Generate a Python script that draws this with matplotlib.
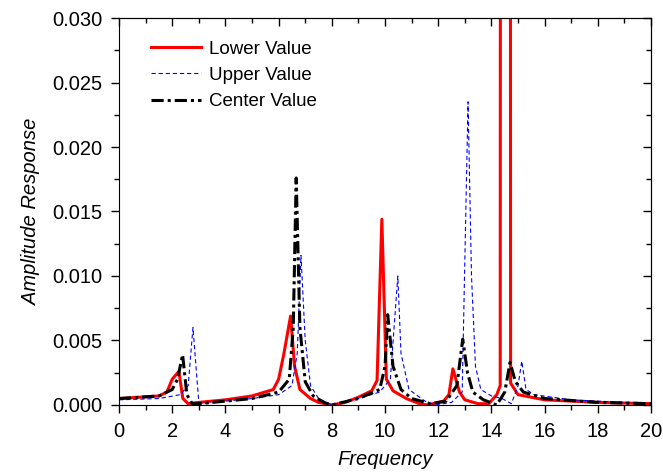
import matplotlib.pyplot as plt
from matplotlib.ticker import MultipleLocator, FormatStrFormatter, NullFormatter

plt.rcParams["font.family"] = ["Liberation Sans", "DejaVu Sans"]

# Lower Value (solid red)
lower_x = [0.0, 1.5, 1.8, 2.0, 2.25, 2.4, 2.6, 3.0, 4.0, 5.0, 5.8, 6.0, 6.2,
           6.45, 6.6, 6.8, 7.2, 7.5, 8.0, 8.5, 9.0, 9.5, 9.7, 9.88, 10.05,
           10.3, 10.8, 11.3, 11.6, 12.2, 12.4, 12.55, 12.8, 13.0, 13.5, 13.9,
           14.2, 14.33, 14.36, 14.68, 14.72, 15.0, 16.0, 18.0, 20.0]
lower_y = [0.0005, 0.0007, 0.0010, 0.0020, 0.0026, 0.0005, 0.0001, 0.0002,
           0.0004, 0.0007, 0.0012, 0.0020, 0.0040, 0.0069, 0.0030, 0.0012,
           0.0005, 0.0002, 0.0000, 0.0002, 0.0006, 0.0011, 0.0019, 0.0144,
           0.0020, 0.0011, 0.0005, 0.0001, 0.0000, 0.0003, 0.0008, 0.0028,
           0.0010, 0.0004, 0.0001, 0.0001, 0.0008, 0.0015, 0.2000, 0.2000,
           0.0017, 0.0008, 0.0004, 0.0002, 0.0001]

# Upper Value (dashed blue)
upper_x = [0.0, 1.5, 2.3, 2.6, 2.78, 2.95, 3.0, 3.2, 4.0, 5.0, 6.0, 6.5, 6.7,
           6.84, 7.0, 7.2, 7.5, 8.0, 9.0, 9.8, 10.2, 10.48, 10.6, 10.9, 11.5,
           11.9, 12.5, 12.9, 13.12, 13.25, 13.4, 13.6, 14.0, 14.4, 14.75,
           15.0, 15.14, 15.3, 15.6, 17.0, 20.0]
upper_y = [0.0004, 0.0005, 0.0008, 0.0015, 0.0060, 0.0015, 0.0002, 0.0001,
           0.0003, 0.0005, 0.0008, 0.0015, 0.0040, 0.0116, 0.0050, 0.0015,
           0.0005, 0.0000, 0.0005, 0.0010, 0.0020, 0.0100, 0.0040, 0.0012,
           0.0003, 0.0000, 0.0002, 0.0010, 0.0235, 0.0100, 0.0030, 0.0012,
           0.0007, 0.0005, 0.0001, 0.0015, 0.0034, 0.0012, 0.0008, 0.0004,
           0.0001]

# Center Value (dash-dot black)
center_x = [0.0, 1.5, 2.0, 2.2, 2.39, 2.55, 2.75, 3.0, 4.0, 5.0, 6.0, 6.4,
            6.55, 6.66, 6.8, 7.0, 7.3, 7.7, 8.0, 9.0, 9.8, 10.0, 10.1, 10.3,
            10.6, 11.0, 11.7, 12.3, 12.7, 12.92, 13.1, 13.3, 13.7, 14.2, 14.5,
            14.7, 14.9, 15.2, 16.0, 18.0, 20.0]
center_y = [0.0005, 0.0007, 0.0012, 0.0020, 0.0039, 0.0008, 0.0001, 0.0001,
            0.0003, 0.0005, 0.0010, 0.0020, 0.0060, 0.0176, 0.0060, 0.0018,
            0.0007, 0.0002, 0.0000, 0.0005, 0.0012, 0.0030, 0.0070, 0.0030,
            0.0012, 0.0005, 0.0001, 0.0003, 0.0015, 0.0051, 0.0025, 0.0010,
            0.0004, 0.0000, 0.0010, 0.0033, 0.0018, 0.0010, 0.0005, 0.0002,
            0.0001]

fig = plt.figure(figsize=(6.63, 4.74), dpi=100)
ax = fig.add_axes([0.1795, 0.1456, 0.8025, 0.8164])

ax.plot(lower_x, lower_y, color="red", lw=2.2, label="Lower Value")
ax.plot(upper_x, upper_y, color="blue", lw=0.8, ls=(0, (3.8, 2.6)), label="Upper Value")
ax.plot(center_x, center_y, color="black", lw=2.2, ls=(0, (4, 1.3, 1, 1.3)),
        label="Center Value")

ax.set_xlim(0, 20)
ax.set_ylim(0, 0.030)
ax.xaxis.set_major_locator(MultipleLocator(2))
ax.xaxis.set_minor_locator(MultipleLocator(1))
ax.yaxis.set_major_locator(MultipleLocator(0.005))
ax.yaxis.set_minor_locator(MultipleLocator(0.0025))
ax.yaxis.set_major_formatter(FormatStrFormatter("%.3f"))
ax.tick_params(which="both", direction="out", labelsize=14.5)
ax.tick_params(which="major", length=6, width=1, pad=6)
ax.tick_params(which="minor", length=3.5, width=1)

# mirrored ticks on top and right, pointing inward
secx = ax.secondary_xaxis("top")
secx.xaxis.set_major_locator(MultipleLocator(2))
secx.xaxis.set_minor_locator(MultipleLocator(1))
secx.xaxis.set_major_formatter(NullFormatter())
secx.tick_params(which="both", direction="in")
secx.tick_params(which="major", length=6, width=1)
secx.tick_params(which="minor", length=3.5, width=1)
secy = ax.secondary_yaxis("right")
secy.yaxis.set_major_locator(MultipleLocator(0.005))
secy.yaxis.set_minor_locator(MultipleLocator(0.0025))
secy.yaxis.set_major_formatter(NullFormatter())
secy.tick_params(which="both", direction="in")
secy.tick_params(which="major", length=6, width=1)
secy.tick_params(which="minor", length=3.5, width=1)

ax.set_xlabel("Frequency", fontsize=14.5, style="italic", labelpad=7)
ax.set_ylabel("Amplitude Response", fontsize=14.5, style="italic", labelpad=8)

ax.legend(loc="upper left", bbox_to_anchor=(0.029, 0.985), frameon=False,
          fontsize=13.5, handlelength=2.65, labelspacing=0.48, handletextpad=0.4)

fig.savefig("out.png", dpi=100)
